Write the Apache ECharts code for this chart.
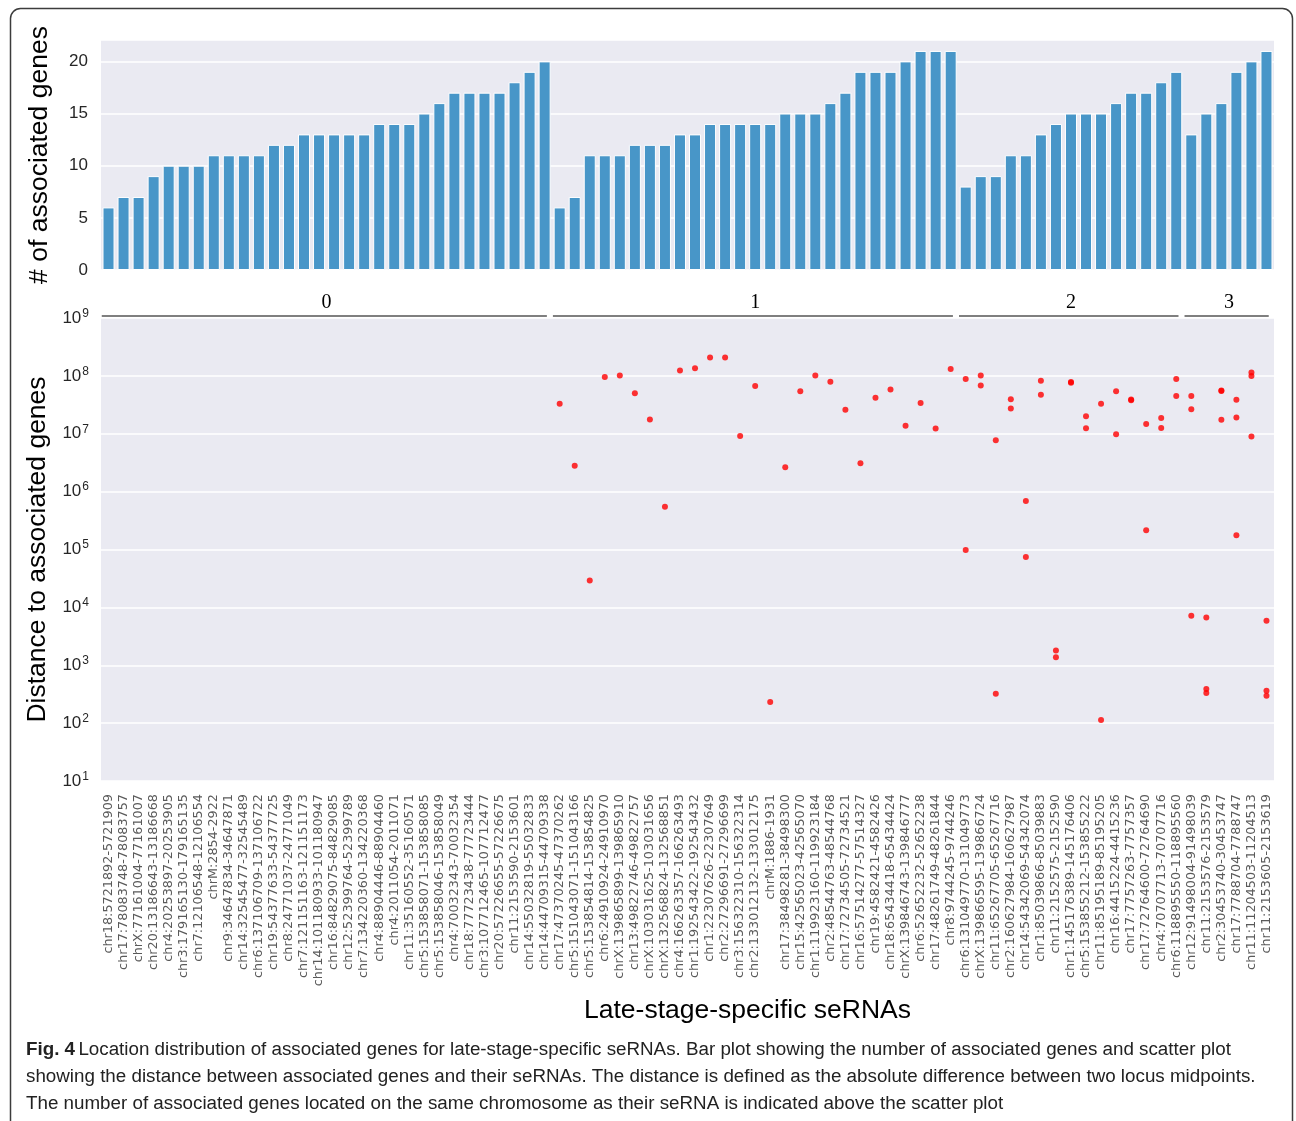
<!DOCTYPE html>
<html>
<head>
<meta charset="utf-8">
<script src="https://cdn.jsdelivr.net/npm/echarts@6/dist/echarts.min.js"></script>
<style>
  html, body { margin: 0; padding: 0; background: #fff; }
  #chart { width: 1296px; height: 1121px; }
</style>
</head>
<body>
<div id="chart"></div>
<script>
// seRNA loci, ordered by group (number of associated genes on the same chromosome)
const categories = [
  'chr18:5721892-5721909', 'chr17:78083748-78083757', 'chrX:77161004-77161007', 'chr20:13186643-13186668',
  'chr4:20253897-20253905', 'chr3:179165130-179165135', 'chr7:12106548-12106554', 'chrM:2854-2922',
  'chr9:34647834-34647871', 'chr14:32545477-32545489', 'chr6:137106709-137106722', 'chr19:54377633-54377725',
  'chr8:24771037-24771049', 'chr7:121151163-121151173', 'chr14:101180933-101180947', 'chr16:84829075-84829085',
  'chr12:52399764-52399789', 'chr7:134220360-134220368', 'chr4:88904446-88904460', 'chr4:2011054-2011071',
  'chr11:35160552-35160571', 'chr5:153858071-153858085', 'chr5:153858046-153858049', 'chr4:70032343-70032354',
  'chr18:77723438-77723444', 'chr3:107712465-107712477', 'chr20:57226655-57226675', 'chr11:2153590-2153601',
  'chr14:55032819-55032833', 'chr14:44709315-44709338',
  'chr17:47370245-47370262', 'chr5:151043071-151043166', 'chr5:153854814-153854825', 'chr6:24910924-24910970',
  'chrX:139865899-139865910', 'chr13:49822746-49822757', 'chrX:103031625-103031656', 'chrX:132568824-132568851',
  'chr4:166263357-166263493', 'chr1:192543422-192543432', 'chr1:22307626-22307649', 'chr2:27296691-27296699',
  'chr3:156322310-156322314', 'chr2:133012132-133012175', 'chrM:1886-1931', 'chr17:38498281-38498300',
  'chr15:42565023-42565070', 'chr1:119923160-119923184', 'chr2:48544763-48544768', 'chr17:72734505-72734521',
  'chr16:57514277-57514327', 'chr19:4582421-4582426', 'chr18:65434418-65434424', 'chrX:139846743-139846777',
  'chr6:52652232-52652238', 'chr17:48261749-48261844', 'chr8:9744245-9744246',
  'chr6:131049770-131049773', 'chrX:139866595-139866724', 'chr11:65267705-65267716', 'chr2:160627984-160627987',
  'chr14:54342069-54342074', 'chr1:85039866-85039883', 'chr11:2152575-2152590', 'chr1:145176389-145176406',
  'chr5:153855212-153855222', 'chr11:85195189-85195205', 'chr16:4415224-4415236', 'chr17:7757263-7757357',
  'chr17:72764600-72764690', 'chr4:70707713-70707716', 'chr6:118895550-118895560',
  'chr12:91498004-91498039', 'chr11:2153576-2153579', 'chr2:30453740-30453747', 'chr17:7788704-7788747',
  'chr11:11204503-11204513', 'chr11:2153605-2153619'
];

// number of associated genes per seRNA
const geneCounts = [
  6, 7, 7, 9, 10, 10, 10, 11, 11, 11, 11, 12, 12, 13, 13, 13, 13, 13, 14, 14, 14, 15, 16, 17, 17, 17, 17, 18, 19, 20,
  6, 7, 11, 11, 11, 12, 12, 12, 13, 13, 14, 14, 14, 14, 14, 15, 15, 15, 16, 17, 19, 19, 19, 20, 21, 21, 21,
  8, 9, 9, 11, 11, 13, 14, 15, 15, 15, 16, 17, 17, 18, 19,
  13, 15, 16, 19, 20, 21
];

// group sizes and their labels (genes on the same chromosome)
const groupSizes = [30, 27, 15, 6];
const groupLabels = ['0', '1', '2', '3'];

// distances (bp) from each seRNA to its same-chromosome associated genes
const distances = [
  [], [], [], [], [], [], [], [], [], [], [], [], [], [], [], [], [], [], [], [], [], [], [], [], [], [], [], [], [], [],
  [3.3e7], [2.8e6], [2.9e4], [9.6e7], [1.01e8], [5.0e7], [1.76e7], [5.5e5], [1.24e8], [1.36e8], [2.07e8], [2.07e8],
  [9.1e6], [6.7e7], [231], [2.65e6], [5.4e7], [1.01e8], [7.9e7], [2.6e7], [3.1e6], [4.2e7], [5.8e7], [1.37e7],
  [3.4e7], [1.23e7], [1.32e8],
  [8.8e7, 9.8e4], [1.01e8, 6.8e7], [7.7e6, 322], [3.95e7, 2.72e7], [6.9e5, 7.4e4], [8.2e7, 4.7e7],
  [1.8e3, 1.37e3], [7.8e7, 7.6e7], [2.0e7, 1.25e7], [3.3e7, 113], [5.4e7, 9.8e6], [3.9e7, 3.8e7],
  [1.47e7, 2.16e5], [1.88e7, 1.26e7], [8.8e7, 4.5e7],
  [4.5e7, 2.66e7, 7.2e3], [6.7e3, 388, 331], [5.6e7, 5.5e7, 1.74e7], [3.85e7, 1.9e7, 1.77e5],
  [1.14e8, 1.0e8, 9.0e6], [5.9e3, 363, 297]
];

// ---- build series data ----
const scatterData = [];
distances.forEach((list, i) => list.forEach(d => scatterData.push([i, d])));

const groupRanges = [];
let start = 0;
groupSizes.forEach(n => { groupRanges.push([start, start + n - 1]); start += n; });

const chart = echarts.init(document.getElementById('chart'), null, { renderer: 'canvas' });

const sans = 'Liberation Sans';
const PANEL = '#EAEAF2';
const TICK = '#262626';

const option = {
  animation: false,
  backgroundColor: '#ffffff',
  grid: [
    { left: 101, top: 40, width: 1173, height: 230, show: true, backgroundColor: PANEL, borderWidth: 0 },
    { left: 101, top: 318, width: 1173, height: 463, show: true, backgroundColor: PANEL, borderWidth: 0 }
  ],
  xAxis: [
    {
      type: 'category', gridIndex: 0, data: categories, boundaryGap: true,
      axisLine: { show: false }, axisTick: { show: false }, axisLabel: { show: false }, splitLine: { show: false }
    },
    {
      type: 'category', gridIndex: 1, data: categories, boundaryGap: true,
      axisLine: { show: false }, axisTick: { show: false }, splitLine: { show: false },
      axisLabel: {
        interval: 0, rotate: 90, margin: 13, fontSize: 12.8,
        fontFamily: 'DejaVu Sans', color: '#5a5a5a'
      },
      name: 'Late-stage-specific seRNAs', nameLocation: 'middle', nameGap: 216,
      nameTextStyle: { fontSize: 26.5, fontFamily: sans, color: '#000', padding: [0, 0, 0, 120] }
    }
  ],
  yAxis: [
    {
      type: 'value', gridIndex: 0, min: 0, max: 22.05, interval: 5,
      axisLine: { show: false }, axisTick: { show: false },
      splitLine: { show: true, lineStyle: { color: '#ffffff', width: 1.5 } },
      axisLabel: {
        margin: 13, fontSize: 17, fontFamily: sans, color: TICK,
        formatter: v => (v % 5 === 0 ? String(v) : '')
      },
      name: '# of associated genes', nameLocation: 'middle', nameGap: 48,
      nameTextStyle: { fontSize: 26.5, fontFamily: sans, color: '#000' }
    },
    {
      type: 'log', logBase: 10, gridIndex: 1, min: 10, max: 1e9,
      axisLine: { show: false }, axisTick: { show: false },
      splitLine: { show: true, lineStyle: { color: '#ffffff', width: 1.5 } },
      axisLabel: {
        margin: 12, fontFamily: sans, color: TICK,
        formatter: v => '{b|10}{s|' + Math.round(Math.log10(v)) + '}',
        rich: {
          b: { fontSize: 17, fontFamily: sans, color: TICK },
          s: { fontSize: 12, fontFamily: sans, color: TICK, padding: [0, 0, 9, 1] }
        }
      },
      name: 'Distance to associated genes', nameLocation: 'middle', nameGap: 48,
      nameTextStyle: { fontSize: 26.5, fontFamily: sans, color: '#000' }
    }
  ],
  series: [
    {
      type: 'bar', xAxisIndex: 0, yAxisIndex: 0, data: geneCounts, barWidth: '80%',
      itemStyle: { color: '#4896C8', borderColor: '#ffffff', borderWidth: 1 }
    },
    {
      type: 'scatter', xAxisIndex: 1, yAxisIndex: 1, data: scatterData,
      symbol: 'circle', symbolSize: 6, itemStyle: { color: '#ff0000' }, z: 5
    },
    {
      // group brackets above the scatter panel
      type: 'custom', xAxisIndex: 1, yAxisIndex: 1, clip: false,
      data: groupRanges.map(r => [r[0], r[1]]),
      renderItem: (params, api) => {
        const band = api.size([1, 0])[0];
        const p0 = api.coord([api.value(0), 1e9]);
        const p1 = api.coord([api.value(1), 1e9]);
        const x0 = p0[0] - band * 0.45;
        const x1 = p1[0] + band * 0.15;
        const y = p0[1] - 2;
        return {
          type: 'group',
          children: [
            { type: 'line', shape: { x1: x0, y1: y, x2: x1, y2: y }, style: { stroke: '#000', lineWidth: 1.2 } },
            {
              type: 'text',
              style: {
                x: (p0[0] + p1[0]) / 2, y: y - 3, text: groupLabels[params.dataIndex],
                font: '20px "Liberation Serif", "DejaVu Serif", serif', fill: '#000',
                textAlign: 'center', textVerticalAlign: 'bottom'
              }
            }
          ]
        };
      }
    }
  ],
  graphic: [
    {
      type: 'rect', silent: true,
      shape: { x: 10.5, y: 8.5, width: 1282, height: 1140, r: 10 },
      style: { fill: 'none', stroke: '#3c3c3c', lineWidth: 1.5 }
    },
    {
      type: 'text', left: 26, top: 1040,
      style: {
        text: '{b|Fig. 4} {n|Location distribution of associated genes for late-stage-specific seRNAs. Bar plot showing the number of associated genes and scatter plot}',
        rich: {
          b: { fontSize: 18.8, fontWeight: 'bold', fontFamily: sans, fill: '#222' },
          n: { fontSize: 18.8, fontFamily: sans, fill: '#222' }
        }
      }
    },
    {
      type: 'text', left: 26, top: 1067,
      style: {
        text: 'showing the distance between associated genes and their seRNAs. The distance is defined as the absolute difference between two locus midpoints.',
        font: '18.8px "Liberation Sans"', fill: '#222'
      }
    },
    {
      type: 'text', left: 26, top: 1094,
      style: {
        text: 'The number of associated genes located on the same chromosome as their seRNA is indicated above the scatter plot',
        font: '18.8px "Liberation Sans"', fill: '#222'
      }
    }
  ]
};

chart.setOption(option);
</script>
</body>
</html>
